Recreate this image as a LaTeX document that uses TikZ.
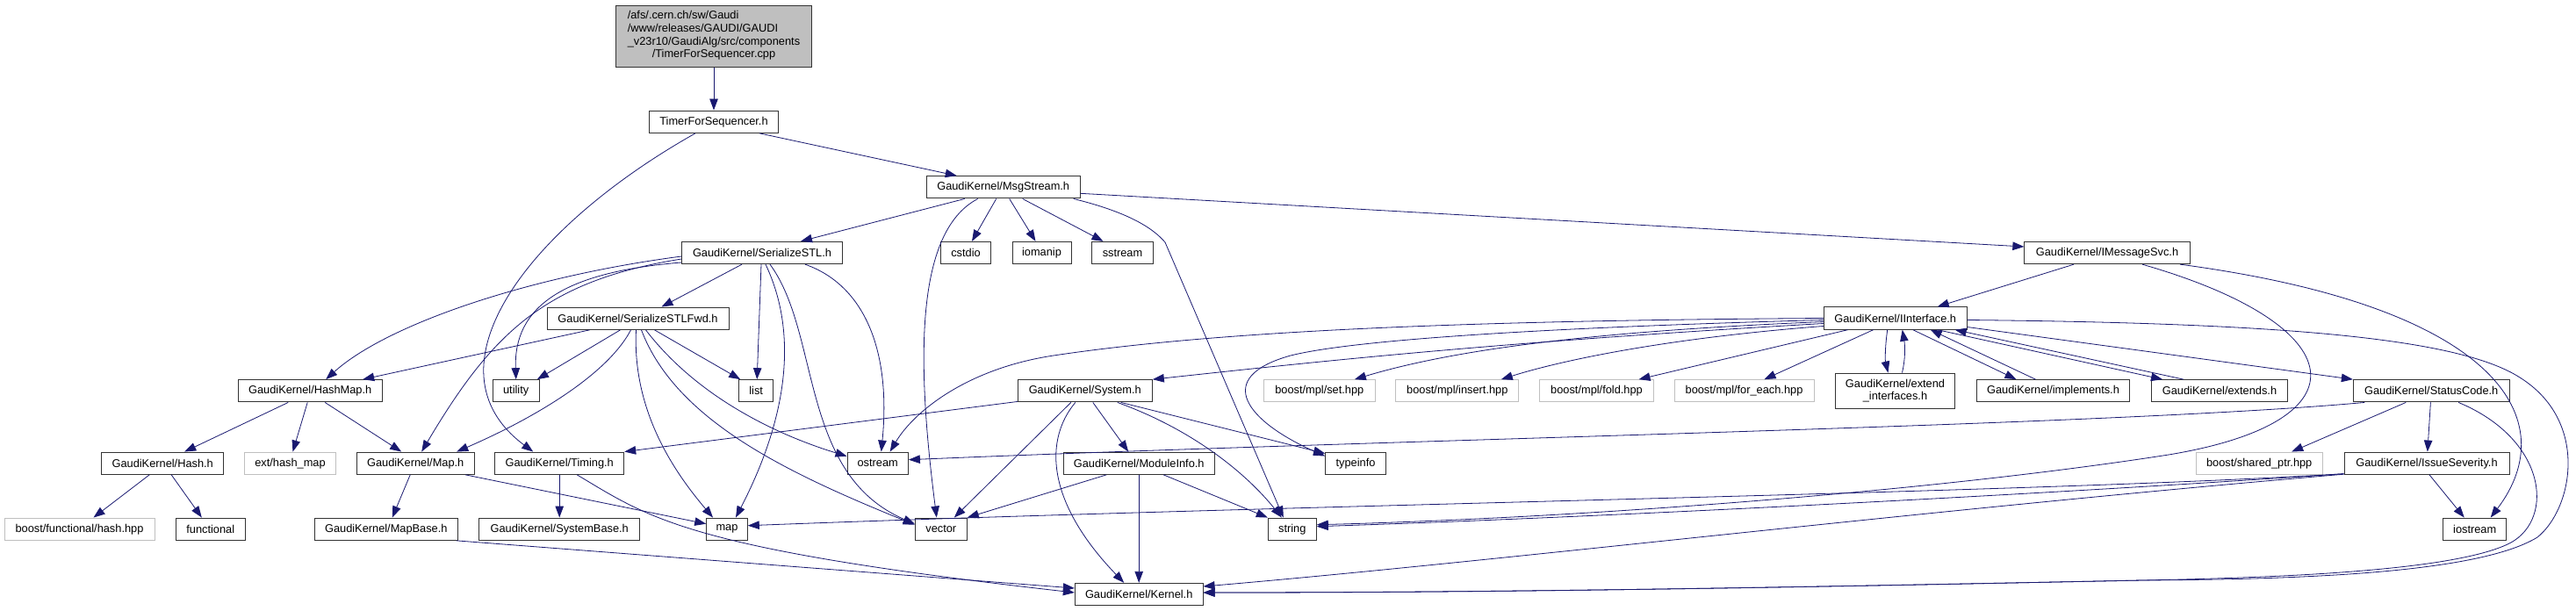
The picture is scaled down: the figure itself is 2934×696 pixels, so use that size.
\documentclass[tikz,border=0pt]{standalone}
\usepackage{fontspec}
\setmainfont{Liberation Sans}
\usepackage{xcolor}
\usepackage{tikz}
\usetikzlibrary{arrows.meta}
\definecolor{midnight}{HTML}{191970}
\definecolor{grey75}{HTML}{BFBFBF}

\begin{document}
\begin{tikzpicture}[x=1pt, y=-1pt,
    hdr/.style={draw=black!80, line width=1pt, rectangle, minimum height=25.3pt, inner sep=0pt, font=\fontsize{12.8}{14.7}\selectfont},
    ext/.style={hdr, draw=grey75},
    dep/.style={draw=midnight, line width=0.8pt, -{Triangle[length=13pt, width=9.5pt]}}]
    \useasboundingbox (0,0) rectangle (2934,696);

    % Source file and its header
    \node[hdr, fill=grey75, minimum width=223pt, minimum height=70pt] (root) at (813,41)
        {\begin{tabular}{@{}l@{}}/afs/.cern.ch/sw/Gaudi\\/www/releases/GAUDI/GAUDI\\\_v23r10/GaudiAlg/src/components\\\multicolumn{1}{@{}c@{}}{/TimerForSequencer.cpp}\end{tabular}};
    \node[hdr, minimum width=147pt] (tfs) at (813,138.7) {TimerForSequencer.h};

    % Row of MsgStream and SerializeSTL
    \node[hdr, minimum width=174.7pt] (msg) at (1142.7,213.3) {GaudiKernel/MsgStream.h};
    \node[hdr, minimum width=182.6pt] (sstl) at (868,288) {GaudiKernel/SerializeSTL.h};
    \node[hdr, minimum width=57.7pt] (cstdio) at (1100,288) {cstdio};
    \node[hdr, minimum width=67pt] (iomanip) at (1186.5,288) {iomanip};
    \node[hdr, minimum width=69.6pt] (sstream) at (1278.5,288) {sstream};
    \node[hdr, minimum width=188.3pt] (imsg) at (2400,288) {GaudiKernel/IMessageSvc.h};
    \node[hdr, minimum width=207pt] (sfwd) at (726.5,362.7) {GaudiKernel/SerializeSTLFwd.h};
    \node[hdr, minimum width=162.7pt] (iint) at (2158.7,362.5) {GaudiKernel/IInterface.h};

    % Middle row
    \node[hdr, minimum width=164.3pt] (hashmap) at (353.2,445.3) {GaudiKernel/HashMap.h};
    \node[hdr, minimum width=53.3pt] (utility) at (587.7,445.3) {utility};
    \node[hdr, minimum width=39pt] (list) at (861.2,445.3) {list};
    \node[hdr, minimum width=153pt] (system) at (1235.8,445.3) {GaudiKernel/System.h};
    \node[ext, minimum width=127pt] (mplset) at (1502.8,445.3) {boost/mpl/set.hpp};
    \node[ext, minimum width=140.3pt] (mplinsert) at (1659.8,445.3) {boost/mpl/insert.hpp};
    \node[ext, minimum width=129.6pt] (mplfold) at (1818.5,445.3) {boost/mpl/fold.hpp};
    \node[ext, minimum width=159pt] (foreach) at (1986.5,445.3) {boost/mpl/for\_each.hpp};
    \node[hdr, minimum width=136.4pt, minimum height=40.3pt, align=center] (extif) at (2158.5,445.2) {GaudiKernel/extend\\\_interfaces.h};
    \node[hdr, minimum width=174.4pt] (impl) at (2338.5,445.3) {GaudiKernel/implements.h};
    \node[hdr, minimum width=154.6pt] (extends) at (2528,445.3) {GaudiKernel/extends.h};
    \node[hdr, minimum width=177.7pt] (status) at (2769.2,445.3) {GaudiKernel/StatusCode.h};

    \node[hdr, minimum width=139pt] (hash) at (185.2,527.7) {GaudiKernel/Hash.h};
    \node[ext, minimum width=104.4pt] (hmext) at (330.5,527.7) {ext/hash\_map};
    \node[hdr, minimum width=133.7pt] (mapfile) at (473.2,527.7) {GaudiKernel/Map.h};
    \node[hdr, minimum width=147pt] (timing) at (637.2,527.7) {GaudiKernel/Timing.h};
    \node[hdr, minimum width=69.3pt] (ostream) at (999.7,527.7) {ostream};
    \node[hdr, minimum width=172.3pt] (modinfo) at (1297.2,527.7) {GaudiKernel/ModuleInfo.h};
    \node[hdr, minimum width=68.6pt] (typeinfo) at (1544,527.7) {typeinfo};
    \node[ext, minimum width=144.3pt] (sharedptr) at (2573.2,527.7) {boost/shared\_ptr.hpp};
    \node[hdr, minimum width=188pt] (issue) at (2764,527.7) {GaudiKernel/IssueSeverity.h};

    % Bottom rows
    \node[ext, minimum width=171pt] (bfhash) at (90.5,602.7) {boost/functional/hash.hpp};
    \node[hdr, minimum width=79pt] (functional) at (239.8,602.7) {functional};
    \node[hdr, minimum width=163pt] (mapbase) at (439.8,602.7) {GaudiKernel/MapBase.h};
    \node[hdr, minimum width=183pt] (sysbase) at (637.2,602.7) {GaudiKernel/SystemBase.h};
    \node[hdr, minimum width=46.6pt] (map) at (828,602.7) {map};
    \node[hdr, minimum width=59pt] (vector) at (1071.8,602.7) {vector};
    \node[hdr, minimum width=55pt] (string) at (1471.8,602.7) {string};
    \node[hdr, minimum width=72pt] (iostream) at (2818.7,602.7) {iostream};
    \node[hdr, minimum width=145.7pt] (kernel) at (1297.2,677) {GaudiKernel/Kernel.h};

    % Top edges
    \draw[dep] (root) -- (tfs);
    \draw[dep] ([xshift=52pt]tfs.south) -- ([xshift=-53pt]msg.north);
    \draw[dep] ([xshift=-21pt]tfs.south) .. controls (600,260) and (480,420) .. ([xshift=-30pt]timing.north);

    % MsgStream.h
    \draw[dep] ([xshift=-44pt]msg.south) -- ([xshift=44pt]sstl.north);
    \draw[dep] ([xshift=-8pt]msg.south) -- ([xshift=7pt]cstdio.north);
    \draw[dep] ([xshift=7pt]msg.south) -- ([xshift=-7pt]iomanip.north);
    \draw[dep] ([xshift=22pt]msg.south) -- ([xshift=-22pt]sstream.north);
    \draw[dep] ([yshift=-7pt]msg.east) -- ([yshift=7pt]imsg.west);
    \draw[dep] ([xshift=-29pt]msg.south) .. controls (1040,265) and (1045,420) .. ([xshift=-5pt]vector.north);
    \draw[dep] ([xshift=80pt]msg.south) .. controls (1290,243) and (1315,262) .. (1327,276) -- ([xshift=-10pt]string.north);

    % SerializeSTL.h
    \draw[dep] ([yshift=-4pt]sstl.west) .. controls (600,315) and (440,370) .. ([xshift=18pt]hashmap.north);
    \draw[dep] ([yshift=-7pt]sstl.west) .. controls (620,320) and (560,380) .. ([xshift=7pt]mapfile.north);
    \draw[dep] ([yshift=-11pt]sstl.west) .. controls (640,310) and (585,350) .. (utility.north);
    \draw[dep] ([xshift=-23pt]sstl.south) -- ([xshift=27pt]sfwd.north);
    \draw[dep] ([xshift=-1pt]sstl.south) -- ([xshift=1pt]list.north);
    \draw[dep] ([xshift=4pt]sstl.south) .. controls (900,360) and (910,450) .. ([xshift=10pt]map.north);
    \draw[dep] ([xshift=9pt]sstl.south) .. controls (935,380) and (910,540) .. ([yshift=6pt]vector.west);
    \draw[dep] ([xshift=49pt]sstl.south) .. controls (985,325) and (1015,400) .. ([xshift=4pt]ostream.north);

    % SerializeSTLFwd.h
    \draw[dep] ([xshift=-55pt]sfwd.south) -- ([xshift=60pt]hashmap.north);
    \draw[dep] ([xshift=-20pt]sfwd.south) -- ([xshift=-3pt]utility.north east);
    \draw[dep] ([xshift=-8pt]sfwd.south) .. controls (690,430) and (600,480) .. ([xshift=47pt]mapfile.north);
    \draw[dep] ([xshift=-2pt]sfwd.south) .. controls (720,470) and (770,540) .. ([xshift=-16pt]map.north);
    \draw[dep] ([xshift=4pt]sfwd.south) .. controls (770,480) and (900,540) .. ([yshift=5pt]vector.west);
    \draw[dep] ([xshift=9pt]sfwd.south) .. controls (800,460) and (900,500) .. ([yshift=8pt]ostream.west);
    \draw[dep] ([xshift=19pt]sfwd.south) -- ([xshift=2pt]list.north west);

    % HashMap.h, Hash.h, Map.h, MapBase.h
    \draw[dep] ([xshift=-25pt]hashmap.south) -- ([xshift=25pt]hash.north);
    \draw[dep] ([xshift=-3pt]hashmap.south) -- ([xshift=3pt]hmext.north);
    \draw[dep] ([xshift=17pt]hashmap.south) -- ([xshift=-16pt]mapfile.north);
    \draw[dep] ([xshift=-15pt]hash.south) -- ([xshift=16pt]bfhash.north);
    \draw[dep] ([xshift=10pt]hash.south) -- ([xshift=-10pt]functional.north);
    \draw[dep] ([xshift=-6pt]mapfile.south) -- ([xshift=7pt]mapbase.north);
    \draw[dep] ([xshift=57pt]mapfile.south) -- ([yshift=6pt]map.west);
    \draw[dep] ([xshift=80pt]mapbase.south) -- ([yshift=7pt]kernel.west);

    % Timing.h
    \draw[dep] (timing) -- (sysbase);
    \draw[dep] ([xshift=20pt]timing.south) .. controls (740,590) and (780,625) .. ([yshift=2pt]kernel.west);

    % System.h
    \draw[dep] ([yshift=1pt]system.south west) -- (timing.north east);
    \draw[dep] ([xshift=-16pt]system.south) -- ([xshift=15pt]vector.north);
    \draw[dep] ([xshift=-11pt]system.south) .. controls (1190,500) and (1190,570) .. ([xshift=-17pt]kernel.north);
    \draw[dep] ([xshift=9pt]system.south) -- ([xshift=-12pt]modinfo.north);
    \draw[dep] ([xshift=37pt]system.south) .. controls (1360,490) and (1420,540) .. ([xshift=-12pt]string.north);
    \draw[dep] ([xshift=41pt]system.south) -- ([yshift=-2pt]typeinfo.north west);

    % ModuleInfo.h
    \draw[dep] ([xshift=-37pt]modinfo.south) -- (vector.north east);
    \draw[dep] (modinfo) -- (kernel);
    \draw[dep] ([xshift=28pt]modinfo.south) -- (string.north west);

    % IMessageSvc.h
    \draw[dep] ([xshift=-38pt]imsg.south) -- ([xshift=48pt]iint.north);
    \draw[dep] ([xshift=40pt]imsg.south) .. controls (2680,370) and (2700,480) .. (2470,518) .. controls (2200,560) and (1800,590) .. ([yshift=5pt]string.east);
    \draw[dep] ([xshift=83pt]imsg.south) .. controls (2850,350) and (2920,480) .. ([xshift=18pt]iostream.north);

    % IInterface.h
    \draw[dep] (iint.west) .. controls (1700,365) and (1400,375) .. (1200,405) .. controls (1100,420) and (1040,470) .. ([xshift=14pt]ostream.north);
    \draw[dep] ([yshift=-2pt]iint.west) .. controls (1800,372) and (1550,385) .. (1470,405) .. controls (1380,430) and (1420,480) .. ([yshift=-5pt]typeinfo.north west);
    \draw[dep] ([yshift=-4pt]iint.west) .. controls (1800,378) and (1650,400) .. ([xshift=40pt]mplset.north);
    \draw[dep] ([yshift=-6pt]iint.west) .. controls (1700,390) and (1500,412) .. (system.north east);
    \draw[dep] ([yshift=-9pt]iint.west) .. controls (1900,385) and (1780,410) .. ([xshift=50pt]mplinsert.north);
    \draw[dep] ([xshift=-54pt]iint.south) -- ([xshift=48pt]mplfold.north);
    \draw[dep] ([xshift=-25pt]iint.south) -- ([xshift=23pt]foreach.north);
    \draw[dep] ([xshift=-9pt]iint.south) .. controls (2147,395) and (2147,410) .. ([xshift=-8pt]extif.north);
    \draw[dep] ([xshift=8pt]extif.north) .. controls (2170,410) and (2170,395) .. ([xshift=8pt]iint.south);
    \draw[dep] ([xshift=20pt]iint.south) -- ([xshift=-42pt]impl.north);
    \draw[dep] ([xshift=-20pt]impl.north) -- ([xshift=40pt]iint.south);
    \draw[dep] ([xshift=48pt]iint.south) -- ([xshift=-65pt]extends.north);
    \draw[dep] ([xshift=-41pt]extends.north) -- ([xshift=68pt]iint.south);
    \draw[dep] ([yshift=-10pt]iint.east) -- (status.north west);
    \draw[dep] ([yshift=-2pt]iint.east) .. controls (2600,368) and (2800,385) .. (2870,430) .. controls (2950,480) and (2930,580) .. (2890,612) .. controls (2820,655) and (2600,660) .. (2440,661) .. controls (2000,670) and (1700,675) .. ([yshift=2pt]kernel.east);

    % StatusCode.h
    \draw[dep] ([xshift=-76pt]status.south) .. controls (2400,485) and (1600,500) .. ([yshift=4pt]ostream.east);
    \draw[dep] ([xshift=-29pt]status.south) -- ([xshift=37pt]sharedptr.north);
    \draw[dep] (status) -- (issue);
    \draw[dep] ([xshift=31pt]status.south) .. controls (2900,500) and (2910,590) .. (2860,618) .. controls (2800,650) and (2600,658) .. (2440,661) .. controls (2000,670) and (1700,675) .. ([yshift=2pt]kernel.east);

    % IssueSeverity.h
    \draw[dep] ([xshift=3pt]issue.south) -- ([xshift=-12pt]iostream.north);
    \draw[dep] ([yshift=-12pt]issue.west) .. controls (2300,562) and (1500,574) .. ([yshift=4pt]map.east);
    \draw[dep] ([yshift=-12pt]issue.west) .. controls (2300,565) and (1800,590) .. ([yshift=3pt]string.east);
    \draw[dep] ([yshift=-12.5pt]issue.west) .. controls (2200,580) and (1700,640) .. ([yshift=9pt]kernel.east);
\end{tikzpicture}
\end{document}
